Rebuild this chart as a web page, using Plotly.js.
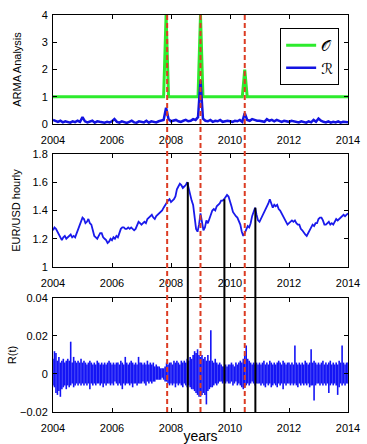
<!DOCTYPE html>
<html>
<head>
<meta charset="utf-8">
<script src="https://cdn.plot.ly/plotly-3.0.1.min.js"></script>
<style>html,body{margin:0;padding:0;background:#fff;}#chart{width:367px;height:444px;}</style>
</head>
<body>
<div id="chart"></div>
<script>
// ---------- DATA ----------
// Top panel: monthly ARMA analysis, 2004.00 .. 2014.00
var armaStart = 2004, armaStep = 1 / 12;
var seriesO = [
  1,1,1,1,1,1,1,1,1,1,1,1,
  1,1,1,1,1,1,1,1,1,1,1,1,
  1,1,1,1,1,1,1,1,1,1,1,1,
  1,1,1,1,1,1,1,1,1,1,4,1,
  1,1,1,1,1,1,1,1,1,1,1,1,
  4,1,1,1,1,1,1,1,1,1,1,1,
  1,1,1,1,1,1,2,1,1,1,1,1,
  1,1,1,1,1,1,1,1,1,1,1,1,
  1,1,1,1,1,1,1,1,1,1,1,1,
  1,1,1,1,1,1,1,1,1,1,1,1,
  1
];
var seriesR = [
  0.15,0.10,0.08,0.12,0.06,0.10,0.08,0.05,0.10,0.07,0.12,0.08,
  0.25,0.10,0.06,0.08,0.12,0.05,0.10,0.08,0.06,0.05,0.08,0.06,
  0.10,0.18,0.08,0.05,0.10,0.06,0.04,0.08,0.12,0.06,0.05,0.10,
  0.08,0.06,0.12,0.05,0.10,0.08,0.06,0.10,0.12,0.15,0.60,0.18,
  0.10,0.12,0.15,0.10,0.08,0.12,0.15,0.10,0.12,0.18,0.15,0.25,
  1.60,0.20,0.12,0.10,0.15,0.08,0.12,0.10,0.15,0.08,0.10,0.12,
  0.10,0.08,0.12,0.10,0.15,0.08,0.40,0.15,0.12,0.18,0.15,0.12,
  0.12,0.10,0.08,0.18,0.12,0.15,0.10,0.15,0.12,0.08,0.12,0.10,
  0.08,0.12,0.10,0.08,0.06,0.10,0.08,0.05,0.10,0.06,0.15,0.08,
  0.20,0.12,0.08,0.06,0.10,0.05,0.08,0.06,0.10,0.05,0.08,0.06,
  0.06
];
var legendNames = ["\uD835\uDCAA", "\u211B"];

// Middle panel: EUR/USD, every 0.05 year from 2004.00
var priceStart = 2004, priceStep = 0.05;
var price = [
  1.26,1.28,1.27,1.25,1.22,1.21,1.19,1.21,1.22,1.20,1.21,1.22,1.23,1.21,1.22,1.21,1.24,1.27,1.30,1.33,
  1.35,1.34,1.31,1.32,1.34,1.31,1.30,1.26,1.22,1.21,1.20,1.22,1.24,1.24,1.21,1.20,1.19,1.17,1.18,1.20,
  1.19,1.21,1.20,1.22,1.21,1.24,1.27,1.28,1.28,1.27,1.27,1.28,1.27,1.28,1.27,1.26,1.27,1.30,1.32,1.31,
  1.30,1.31,1.32,1.31,1.34,1.35,1.36,1.37,1.35,1.34,1.36,1.37,1.38,1.39,1.40,1.42,1.44,1.46,1.47,1.48,
  1.46,1.47,1.48,1.50,1.55,1.57,1.59,1.58,1.56,1.57,1.58,1.60,1.55,1.50,1.47,1.44,1.35,1.27,1.25,1.30,
  1.38,1.30,1.26,1.28,1.33,1.31,1.34,1.38,1.40,1.41,1.40,1.43,1.44,1.45,1.47,1.47,1.48,1.50,1.51,1.50,
  1.47,1.43,1.39,1.37,1.36,1.35,1.33,1.30,1.25,1.22,1.24,1.27,1.29,1.28,1.31,1.36,1.39,1.42,1.37,1.33,
  1.32,1.34,1.36,1.38,1.41,1.43,1.45,1.48,1.44,1.42,1.44,1.43,1.44,1.41,1.40,1.38,1.36,1.33,1.31,1.30,
  1.31,1.32,1.33,1.32,1.33,1.31,1.30,1.30,1.27,1.26,1.24,1.23,1.22,1.24,1.27,1.29,1.30,1.29,1.31,1.31,
  1.34,1.35,1.35,1.33,1.30,1.30,1.31,1.32,1.30,1.31,1.30,1.32,1.34,1.33,1.34,1.35,1.36,1.37,1.36,1.37,
  1.38
];

// Bottom panel: returns R(t), high / low excursions per 0.05 year
var retStart = 2004, retStep = 0.05;
var retHi = [
  0.008,0.012,0.011,0.007,0.009,0.006,0.007,0.008,0.006,0.007,0.008,0.007,0.017,0.006,0.009,0.007,0.006,0.007,0.006,0.008,
  0.006,0.007,0.006,0.005,0.006,0.007,0.006,0.005,0.006,0.005,0.007,0.006,0.005,0.006,0.005,0.006,0.005,0.006,0.007,0.006,
  0.005,0.006,0.005,0.006,0.006,0.005,0.007,0.006,0.005,0.009,0.006,0.005,0.006,0.007,0.006,0.005,0.006,0.005,0.009,0.006,
  0.006,0.005,0.006,0.005,0.007,0.005,0.006,0.005,0.006,0.004,0.005,0.004,0.004,0.003,0.003,0.003,0.004,0.006,0.005,0.006,
  0.006,0.005,0.007,0.006,0.007,0.006,0.005,0.007,0.006,0.007,0.006,0.008,0.007,0.009,0.008,0.010,0.012,0.011,0.013,0.010,
  0.009,0.010,0.008,0.009,0.007,0.010,0.007,0.023,0.007,0.006,0.008,0.006,0.005,0.006,0.005,0.004,0.004,0.005,0.004,0.005,
  0.005,0.006,0.005,0.004,0.006,0.005,0.006,0.007,0.006,0.008,0.010,0.015,0.008,0.007,0.006,0.005,0.006,0.005,0.006,0.005,
  0.006,0.005,0.006,0.007,0.005,0.006,0.005,0.007,0.006,0.005,0.006,0.005,0.006,0.007,0.006,0.005,0.007,0.006,0.005,0.006,
  0.006,0.005,0.006,0.005,0.015,0.006,0.005,0.006,0.005,0.006,0.005,0.007,0.006,0.005,0.006,0.013,0.006,0.007,0.006,0.005,
  0.006,0.005,0.006,0.007,0.005,0.006,0.005,0.006,0.007,0.005,0.006,0.005,0.006,0.005,0.007,0.006,0.015,0.006,0.005,0.006,
  0.006
];
var retLo = [
  -0.006,-0.007,-0.010,-0.011,-0.009,-0.012,-0.008,-0.007,-0.006,-0.008,-0.006,-0.007,-0.006,-0.005,-0.007,-0.006,-0.005,-0.006,-0.005,-0.006,
  -0.005,-0.006,-0.005,-0.006,-0.005,-0.008,-0.005,-0.006,-0.005,-0.006,-0.005,-0.005,-0.006,-0.005,-0.007,-0.005,-0.006,-0.005,-0.005,-0.006,
  -0.005,-0.006,-0.004,-0.005,-0.006,-0.005,-0.006,-0.008,-0.005,-0.006,-0.005,-0.005,-0.006,-0.005,-0.007,-0.005,-0.005,-0.006,-0.005,-0.005,
  -0.005,-0.004,-0.005,-0.006,-0.004,-0.005,-0.004,-0.005,-0.004,-0.004,-0.003,-0.003,-0.003,-0.003,-0.002,-0.003,-0.004,-0.004,-0.005,-0.006,
  -0.005,-0.006,-0.005,-0.007,-0.005,-0.006,-0.005,-0.006,-0.007,-0.005,-0.006,-0.007,-0.006,-0.007,-0.008,-0.008,-0.009,-0.010,-0.011,-0.012,
  -0.012,-0.011,-0.010,-0.011,-0.016,-0.009,-0.008,-0.007,-0.007,-0.006,-0.005,-0.006,-0.005,-0.004,-0.004,-0.005,-0.004,-0.005,-0.004,-0.005,
  -0.005,-0.004,-0.006,-0.005,-0.004,-0.006,-0.005,-0.006,-0.007,-0.008,-0.007,-0.006,-0.005,-0.006,-0.005,-0.004,-0.005,-0.006,-0.005,-0.005,
  -0.005,-0.006,-0.005,-0.006,-0.007,-0.005,-0.006,-0.005,-0.007,-0.006,-0.005,-0.006,-0.007,-0.005,-0.006,-0.005,-0.008,-0.005,-0.006,-0.005,
  -0.005,-0.006,-0.005,-0.006,-0.005,-0.006,-0.007,-0.005,-0.006,-0.005,-0.006,-0.005,-0.006,-0.005,-0.007,-0.006,-0.006,-0.014,-0.006,-0.005,
  -0.005,-0.006,-0.005,-0.006,-0.005,-0.006,-0.005,-0.010,-0.006,-0.005,-0.006,-0.005,-0.006,-0.011,-0.007,-0.005,-0.006,-0.005,-0.006,-0.005,
  -0.005
];

// Event markers
var armaEventYears = [2007.87, 2009.0, 2010.5];          // red dashed
var breakYears = [2008.57, 2009.81, 2010.86];            // black solid
var breakPrices = [1.60, 1.48, 1.42];

var xTicks = [2004, 2006, 2008, 2010, 2012, 2014];

// ---------- BUILD ----------
function seq(start, step, n) { var a = []; for (var i = 0; i < n; i++) a.push(+(start + i * step).toFixed(5)); return a; }
var armaX = seq(armaStart, armaStep, seriesO.length);
var priceX = seq(priceStart, priceStep, price.length);
var retT = seq(retStart, retStep, retHi.length);
var retX = [], retY = [];
for (var i = 0; i < retT.length; i++) {
  retX.push(retT[i], retT[i], null);
  retY.push(retLo[i], retHi[i], null);
}

var FONT = "Liberation Sans, Arial, Helvetica, sans-serif";
var traces = [
  {x: armaX, y: seriesO, type: 'scatter', mode: 'lines', name: legendNames[0],
   line: {color: 'rgb(45,235,45)', width: 3}, xaxis: 'x', yaxis: 'y'},
  {x: armaX, y: seriesR, type: 'scatter', mode: 'lines', name: legendNames[1],
   line: {color: 'rgb(20,20,225)', width: 2.5}, xaxis: 'x', yaxis: 'y'},
  {x: priceX, y: price, type: 'scatter', mode: 'lines', showlegend: false,
   line: {color: 'rgb(25,25,235)', width: 1.8}, xaxis: 'x2', yaxis: 'y2'},
  {x: retX, y: retY, type: 'scatter', mode: 'lines', showlegend: false, connectgaps: false,
   line: {color: 'rgb(20,20,245)', width: 1.6}, xaxis: 'x3', yaxis: 'y3'}
];

function xAxis(anchor, extra) {
  var a = {range: [2004, 2014], tickvals: xTicks, ticks: 'inside', ticklen: 4, tickcolor: '#000',
    showline: true, mirror: 'ticks', linecolor: '#000', linewidth: 1, showgrid: false, zeroline: false,
    ticklabelstandoff: 6,
    tickfont: {family: FONT, size: 11, color: '#000'}, anchor: anchor};
  for (var k in extra) a[k] = extra[k];
  return a;
}
function yAxis(anchor, domain, range, tickvals, title, standoff) {
  return {domain: domain, range: range, tickvals: tickvals, ticks: 'inside', ticklen: 4, tickcolor: '#000',
    showline: true, mirror: 'ticks', linecolor: '#000', linewidth: 1, showgrid: false, zeroline: false,
    ticklabelstandoff: 2,
    tickfont: {family: FONT, size: 11, color: '#000'}, anchor: anchor,
    title: {text: title, font: {family: FONT, size: 11, color: '#000'}, standoff: standoff}};
}

var shapes = [];
for (var j = 0; j < armaEventYears.length; j++) {
  shapes.push({type: 'line', xref: 'x', yref: 'paper', x0: armaEventYears[j], x1: armaEventYears[j], y0: 0, y1: 1,
    line: {color: 'rgb(220,60,35)', width: 2, dash: '5px,3px'}});
}
var midBottom = 0.3652;
for (var j = 0; j < breakYears.length; j++) {
  shapes.push({type: 'line', xref: 'x2', yref: 'y2', x0: breakYears[j], x1: breakYears[j], y0: 1, y1: breakPrices[j],
    line: {color: '#000', width: 2}});
  shapes.push({type: 'line', xref: 'x3', yref: 'paper', x0: breakYears[j], x1: breakYears[j], y0: 0, y1: midBottom,
    line: {color: '#000', width: 2}});
}

var layout = {
  width: 367, height: 444,
  margin: {l: 53, r: 19, t: 15, b: 32},
  paper_bgcolor: '#fff', plot_bgcolor: '#fff',
  font: {family: FONT, size: 11, color: '#000'},
  showlegend: true,
  legend: {x: 0.77, y: 0.967, xanchor: 'left', yanchor: 'top', bgcolor: '#fff', bordercolor: '#000', borderwidth: 1,
    font: {family: "DejaVu Serif, DejaVu Sans, serif", size: 15, color: '#000'}, tracegroupgap: 0},
  xaxis: xAxis('y', {}),
  xaxis2: xAxis('y2', {}),
  xaxis3: xAxis('y3', {title: {text: 'years', font: {family: FONT, size: 14, color: '#000'}, standoff: 5}}),
  yaxis: yAxis('x', [0.7254, 1], [0, 4], [0, 1, 2, 3, 4], 'ARMA Analysis', 17),
  yaxis2: yAxis('x2', [0.3652, 0.6499], [1, 1.8], [1, 1.2, 1.4, 1.6, 1.8], 'EUR/USD hourly', 9),
  yaxis3: yAxis('x3', [0, 0.2872], [-0.02, 0.04], [-0.02, 0, 0.02, 0.04], 'R(t)', 1),
  shapes: shapes
};

Plotly.newPlot('chart', traces, layout, {displayModeBar: false, staticPlot: true});
</script>
</body>
</html>
